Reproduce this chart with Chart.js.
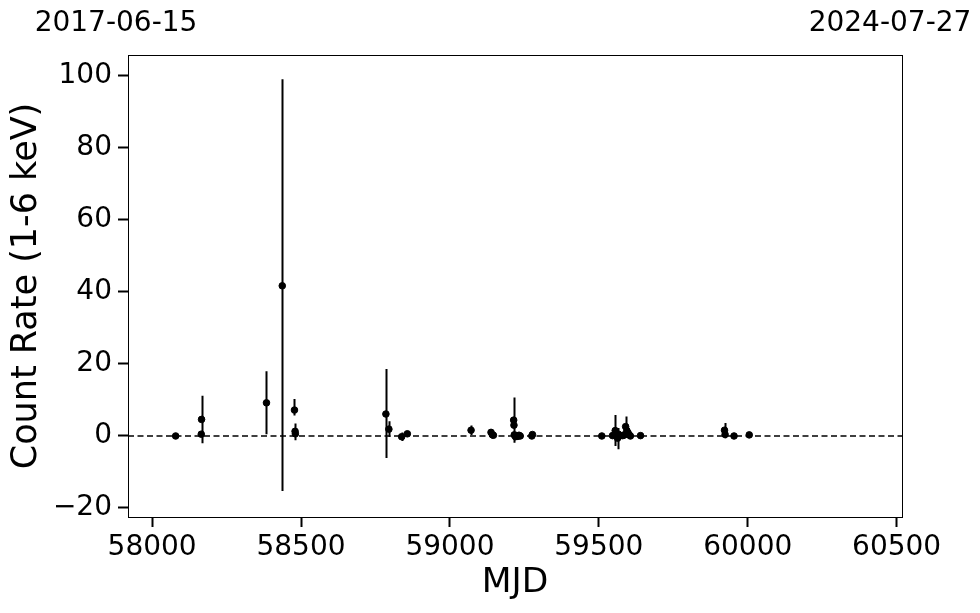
<!DOCTYPE html>
<html>
<head>
<meta charset="utf-8">
<title>Count rate light curve</title>
<script src="https://cdn.jsdelivr.net/npm/chart.js@4.4.1/dist/chart.umd.min.js"></script>
<style>
    html, body { margin: 0; padding: 0; background: #ffffff; }
    #wrap { width: 980px; height: 613px; }
</style>
</head>
<body>
<div id="wrap"><canvas id="lcChart" width="980" height="613"></canvas></div>
<script>
// Observations (MJD) with count rate and lower / upper errors
const mjd = [58079, 58165, 58166, 58384, 58437, 58478, 58480, 58481, 58785, 58795,
    58838, 58857, 59071, 59138, 59143, 59146, 59214, 59215, 59216, 59220,
    59224, 59228, 59232, 59236, 59275, 59277, 59510, 59546, 59552, 59555,
    59558, 59563, 59566, 59570, 59580, 59586, 59590, 59594, 59598, 59602,
    59606, 59640, 59922, 59924, 59954, 60005];
const rate = [0.0, 0.5, 4.6, 9.2, 41.7, 7.2, 1.3, 0.6, 6.1, 1.9,
    -0.2, 0.6, 1.6, 1.0, 0.3, 0.2, 4.4, 3.0, 0.3, -0.2,
    0.1, -0.1, 0.2, 0.0, 0.0, 0.4, 0.0, 0.1, 0.2, 1.5,
    0.2, -0.6, 0.5, 0.0, 0.1, 0.3, 2.6, 1.5, 0.9, 0.3,
    0.0, 0.1, 1.6, 0.4, 0.0, 0.3];
const errLow = [0.3, 0.8, 6.6, 8.7, 57.0, 1.5, 2.5, 0.8, 12.2, 2.2,
    1.2, 0.5, 1.3, 0.9, 0.7, 0.5, 6.3, 0.8, 1.0, 0.8,
    0.6, 0.5, 0.6, 0.4, 0.5, 0.4, 0.3, 0.4, 0.8, 4.3,
    0.6, 3.1, 0.8, 0.5, 0.4, 1.0, 2.8, 1.0, 1.2, 0.6,
    0.4, 0.3, 2.0, 1.0, 0.3, 0.3];
const errHigh = [0.3, 0.8, 6.6, 8.8, 57.4, 3.1, 2.2, 0.8, 12.5, 2.2,
    1.2, 0.5, 1.3, 0.9, 0.7, 0.5, 6.3, 0.8, 1.0, 0.8,
    0.6, 0.5, 0.6, 0.4, 0.5, 0.4, 0.3, 0.4, 0.8, 4.3,
    0.6, 2.8, 0.8, 0.5, 0.4, 1.0, 2.8, 1.0, 1.2, 0.6,
    0.4, 0.3, 2.0, 1.0, 0.3, 0.3];

// Axis ranges and tick labels
const xRange = [57919, 60518];
const yRange = [-22.5, 105.8];
const xTicks = [58000, 58500, 59000, 59500, 60000, 60500];
const yTicks = [-20, 0, 20, 40, 60, 80, 100];
const dateLabels = ['2017-06-15', '2024-07-27'];

const FONT = "'DejaVu Sans', sans-serif";

// Draw vertical error bars behind the markers
const errorBars = {
    id: 'errorBars',
    beforeDatasetsDraw(chart) {
        const ctx = chart.ctx;
        const xs = chart.scales.x;
        const ys = chart.scales.y;
        const area = chart.chartArea;
        ctx.save();
        ctx.beginPath();
        ctx.rect(area.left, area.top, area.right - area.left, area.bottom - area.top);
        ctx.clip();
        ctx.strokeStyle = '#000000';
        ctx.lineWidth = 2;
        ctx.beginPath();
        mjd.forEach((m, i) => {
            const px = Math.round(xs.getPixelForValue(m)) + 0.5;
            ctx.moveTo(px, ys.getPixelForValue(rate[i] - errLow[i]));
            ctx.lineTo(px, ys.getPixelForValue(rate[i] + errHigh[i]));
        });
        ctx.stroke();
        ctx.restore();
    }
};

// Box around the plotting area
const frame = {
    id: 'frame',
    afterDraw(chart) {
        const a = chart.chartArea;
        const ctx = chart.ctx;
        ctx.save();
        ctx.strokeStyle = '#000000';
        ctx.lineWidth = 1;
        ctx.strokeRect(Math.round(a.left) + 0.5, Math.round(a.top) + 0.5,
            Math.round(a.right - a.left), Math.round(a.bottom - a.top));
        ctx.restore();
    }
};

// stop edge tick labels from pushing the plot area inward
function noSidePadding(s) {
    s.paddingLeft = 0;
    s.paddingRight = 0;
}

const ctx = document.getElementById('lcChart').getContext('2d');
new Chart(ctx, {
    type: 'scatter',
    data: {
        datasets: [
            {
                type: 'line',
                data: [{ x: xRange[0], y: 0 }, { x: xRange[1], y: 0 }],
                borderColor: '#000000',
                borderWidth: 1.5,
                borderDash: [6, 3.5],
                pointRadius: 0,
                order: 2
            },
            {
                data: mjd.map((m, i) => ({ x: m, y: rate[i] })),
                backgroundColor: '#000000',
                borderColor: '#000000',
                pointRadius: 3.3,
                pointHoverRadius: 3.3,
                order: 1
            }
        ]
    },
    options: {
        responsive: false,
        animation: false,
        events: [],
        layout: { padding: { left: 0, right: 78, top: 0, bottom: 0 } },
        plugins: {
            legend: { display: false },
            tooltip: { enabled: false }
        },
        scales: {
            x: {
                type: 'linear',
                position: 'bottom',
                min: xRange[0],
                max: xRange[1],
                afterBuildTicks: s => { s.ticks = xTicks.map(v => ({ value: v })); },
                afterFit: s => { s.height = 96; noSidePadding(s); },
                ticks: {
                    color: '#000000',
                    font: { family: FONT, size: 28 },
                    padding: 4,
                    maxRotation: 0,
                    callback: v => String(v)
                },
                grid: {
                    display: true,
                    drawOnChartArea: false,
                    drawTicks: true,
                    tickLength: 10,
                    tickWidth: 2,
                    tickColor: '#000000'
                },
                border: { display: false },
                title: {
                    display: true,
                    text: 'MJD',
                    color: '#000000',
                    font: { family: FONT, size: 34.5 },
                    padding: { top: 0, bottom: 9 }
                }
            },
            xTop: {
                type: 'linear',
                position: 'top',
                min: xRange[0],
                max: xRange[1],
                afterBuildTicks: s => { s.ticks = xRange.map(v => ({ value: v })); },
                afterFit: s => { s.height = 55; noSidePadding(s); },
                ticks: {
                    color: '#000000',
                    font: { family: FONT, size: 28 },
                    padding: 14,
                    labelOffset: -12,
                    maxRotation: 0,
                    autoSkip: false,
                    callback: (v, i) => dateLabels[i]
                },
                grid: { display: false, drawTicks: false },
                border: { display: false }
            },
            y: {
                type: 'linear',
                position: 'left',
                min: yRange[0],
                max: yRange[1],
                afterBuildTicks: s => { s.ticks = yTicks.map(v => ({ value: v })); },
                afterFit: s => { s.width = 128; },
                ticks: {
                    color: '#000000',
                    font: { family: FONT, size: 28 },
                    padding: 6,
                    callback: v => (v < 0 ? '\u2212' + Math.abs(v) : String(v))
                },
                grid: {
                    display: true,
                    drawOnChartArea: false,
                    drawTicks: true,
                    tickLength: 10,
                    tickWidth: 2,
                    tickColor: '#000000'
                },
                border: { display: false },
                title: {
                    display: true,
                    text: 'Count Rate (1-6 keV)',
                    color: '#000000',
                    font: { family: FONT, size: 35 },
                    padding: { top: 6, bottom: 0 }
                }
            }
        }
    },
    plugins: [errorBars, frame]
});
</script>
</body>
</html>
